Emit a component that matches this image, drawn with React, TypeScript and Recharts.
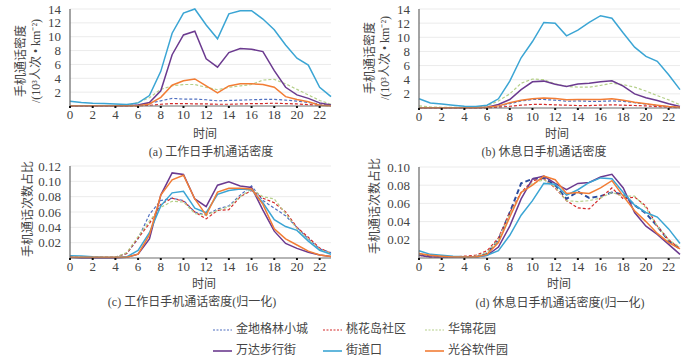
import { LineChart, Line, XAxis, YAxis, CartesianGrid } from 'recharts';

const hours = [0, 1, 2, 3, 4, 5, 6, 7, 8, 9, 10, 11, 12, 13, 14, 15, 16, 17, 18, 19, 20, 21, 22, 23];
const hourTicks = [0, 2, 4, 6, 8, 10, 12, 14, 16, 18, 20, 22];
const densityTicks = [2, 4, 6, 8, 10, 12, 14];
const shareTicksWork = [0.02, 0.04, 0.06, 0.08, 0.1, 0.12];
const shareTicksRest = [0.02, 0.04, 0.06, 0.08, 0.1];

const seriesNames = ['金地格林小城', '桃花岛社区', '华锦花园', '万达步行街', '街道口', '光谷软件园'];
const seriesKeys = ['jindi', 'taohua', 'huajin', 'wanda', 'jiedao', 'guanggu'];
const seriesColors = ['#4f6fc0', '#d42a2a', '#b5d08a', '#6b3a8f', '#3ba5d4', '#f27d35'];
const seriesDashed = [true, true, true, false, false, false];

// (a) 工作日手机通话密度
const aJindi = [0.05, 0.05, 0.05, 0.05, 0.05, 0.05, 0.1, 0.4, 0.75, 1.1, 1.0, 1.0, 0.9, 0.75, 0.8, 0.85, 0.9, 0.95, 0.95, 0.85, 0.7, 0.5, 0.3, 0.1];
const aTaohua = [0.02, 0.02, 0.02, 0.02, 0.02, 0.02, 0.02, 0.1, 0.25, 0.35, 0.35, 0.3, 0.3, 0.25, 0.25, 0.3, 0.35, 0.35, 0.4, 0.35, 0.3, 0.2, 0.1, 0.05];
const aHuajin = [0.05, 0.05, 0.05, 0.05, 0.05, 0.05, 0.5, 1.2, 2.4, 2.9, 3.1, 3.1, 2.7, 2.35, 2.7, 2.9, 3.1, 3.75, 3.85, 3.2, 2.4, 1.6, 0.8, 0.25];
const aWanda = [0.05, 0.05, 0.05, 0.05, 0.05, 0.05, 0.15, 0.5, 2.2, 7.4, 10.25, 10.8, 6.8, 5.6, 7.7, 8.3, 8.2, 7.85, 5.1, 2.7, 1.6, 1.1, 0.45, 0.15];
const aJiedao = [0.7, 0.5, 0.4, 0.35, 0.3, 0.2, 0.45, 1.5, 5.0, 10.5, 13.4, 14.0, 11.7, 9.7, 13.3, 13.75, 13.75, 12.55, 11.0, 8.8, 6.9, 5.9, 2.7, 1.35];
const aGuanggu = [0.03, 0.03, 0.03, 0.03, 0.03, 0.03, 0.05, 0.3, 1.25, 3.0, 3.65, 3.9, 2.9, 1.9, 2.9, 3.2, 3.2, 3.1, 2.7, 1.35, 0.95, 0.6, 0.1, 0.05];

// (b) 休息日手机通话密度
const bJindi = [0.05, 0.05, 0.05, 0.05, 0.05, 0.05, 0.05, 0.2, 0.6, 1.0, 1.2, 1.2, 1.1, 0.95, 1.0, 0.95, 0.95, 1.0, 0.95, 0.75, 0.55, 0.35, 0.2, 0.1];
const bTaohua = [0.02, 0.02, 0.02, 0.02, 0.02, 0.02, 0.02, 0.1, 0.25, 0.4, 0.5, 0.5, 0.45, 0.4, 0.35, 0.35, 0.4, 0.45, 0.4, 0.35, 0.3, 0.2, 0.1, 0.05];
const bHuajin = [0.3, 0.15, 0.1, 0.1, 0.1, 0.1, 0.3, 1.0, 2.0, 3.5, 4.1, 4.0, 3.4, 3.05, 2.95, 2.95, 3.2, 3.5, 3.3, 2.95, 2.4, 1.75, 1.15, 0.45];
const bWanda = [0.05, 0.05, 0.05, 0.05, 0.05, 0.05, 0.1, 0.5, 1.2, 2.6, 3.7, 3.8, 3.35, 3.05, 3.4, 3.5, 3.7, 3.85, 3.1, 2.0, 1.45, 1.05, 0.6, 0.2];
const bJiedao = [1.3, 0.7, 0.55, 0.4, 0.25, 0.2, 0.4, 1.3, 3.8, 7.1, 9.4, 12.1, 12.0, 10.2, 11.0, 12.1, 13.05, 12.7, 10.6, 8.6, 7.3, 6.6, 4.7, 2.6];
const bGuanggu = [0.05, 0.05, 0.05, 0.05, 0.05, 0.05, 0.1, 0.3, 0.75, 1.1, 1.3, 1.4, 1.35, 1.15, 1.2, 1.2, 1.2, 1.3, 1.1, 0.8, 0.6, 0.4, 0.2, 0.1];

// (c) 工作日手机通话密度(归一化)
const cJindi = [0.001, 0.001, 0.001, 0.001, 0.001, 0.006, 0.025, 0.057, 0.075, 0.078, 0.075, 0.06, 0.056, 0.064, 0.068, 0.082, 0.094, 0.075, 0.065, 0.055, 0.04, 0.025, 0.012, 0.007];
const cTaohua = [0.001, 0.001, 0.001, 0.001, 0.001, 0.006, 0.026, 0.045, 0.07, 0.078, 0.074, 0.06, 0.051, 0.062, 0.063, 0.08, 0.088, 0.078, 0.072, 0.06, 0.04, 0.027, 0.013, 0.006];
const cHuajin = [0.001, 0.001, 0.001, 0.001, 0.001, 0.007, 0.028, 0.048, 0.066, 0.074, 0.073, 0.058, 0.056, 0.062, 0.067, 0.08, 0.09, 0.08, 0.077, 0.058, 0.038, 0.024, 0.011, 0.006];
const cWanda = [0.001, 0, 0, 0, 0, 0.001, 0.005, 0.025, 0.082, 0.111, 0.109, 0.077, 0.067, 0.095, 0.0995, 0.094, 0.092, 0.0625, 0.035, 0.019, 0.0125, 0.0075, 0.004, 0.002];
const cJiedao = [0.003, 0.0025, 0.0015, 0.001, 0.001, 0.0015, 0.01, 0.033, 0.068, 0.085, 0.087, 0.065, 0.059, 0.083, 0.088, 0.09, 0.089, 0.072, 0.05, 0.041, 0.036, 0.022, 0.01, 0.005];
const cGuanggu = [0.001, 0.001, 0.001, 0.001, 0.001, 0.001, 0.005, 0.03, 0.082, 0.102, 0.108, 0.077, 0.056, 0.086, 0.091, 0.091, 0.09, 0.07, 0.038, 0.025, 0.017, 0.009, 0.004, 0.002];

// (d) 休息日手机通话密度(归一化)
const dJindi = [0.004, 0.002, 0.001, 0.001, 0.001, 0.001, 0.005, 0.02, 0.05, 0.082, 0.087, 0.088, 0.08, 0.065, 0.073, 0.066, 0.068, 0.072, 0.07, 0.058, 0.049, 0.035, 0.019, 0.01];
const dTaohua = [0.003, 0.001, 0.001, 0.001, 0.002, 0.003, 0.008, 0.022, 0.05, 0.072, 0.085, 0.087, 0.077, 0.063, 0.055, 0.054, 0.066, 0.077, 0.065, 0.067, 0.057, 0.035, 0.02, 0.01];
const dHuajin = [0.004, 0.002, 0.001, 0.001, 0.001, 0.002, 0.006, 0.02, 0.048, 0.072, 0.082, 0.086, 0.078, 0.063, 0.062, 0.063, 0.066, 0.072, 0.068, 0.068, 0.055, 0.035, 0.02, 0.012];
const dWanda = [0.003, 0.001, 0.001, 0.001, 0.001, 0.001, 0.003, 0.012, 0.035, 0.065, 0.087, 0.09, 0.082, 0.075, 0.082, 0.083, 0.089, 0.092, 0.077, 0.05, 0.035, 0.026, 0.015, 0.004];
const dJiedao = [0.008, 0.004, 0.003, 0.002, 0.0015, 0.001, 0.003, 0.008, 0.025, 0.047, 0.063, 0.082, 0.081, 0.069, 0.075, 0.083, 0.088, 0.087, 0.072, 0.058, 0.05, 0.045, 0.032, 0.016];
const dGuanggu = [0.005, 0.003, 0.002, 0.001, 0.001, 0.001, 0.004, 0.017, 0.045, 0.072, 0.08, 0.09, 0.086, 0.071, 0.072, 0.071, 0.077, 0.085, 0.068, 0.052, 0.04, 0.027, 0.017, 0.01];

const FONT = "'Liberation Serif', 'Noto Sans CJK SC', serif";
const TEXT = '#444';

function buildRows(cols: number[][]) {
  return hours.map((h, i) => {
    const row: any = { h };
    seriesKeys.forEach((k, j) => {
      row[k] = cols[j][i];
    });
    return row;
  });
}

const dataA = buildRows([aJindi, aTaohua, aHuajin, aWanda, aJiedao, aGuanggu]);
const dataB = buildRows([bJindi, bTaohua, bHuajin, bWanda, bJiedao, bGuanggu]);
const dataC = buildRows([cJindi, cTaohua, cHuajin, cWanda, cJiedao, cGuanggu]);
const dataD = buildRows([dJindi, dTaohua, dHuajin, dWanda, dJiedao, dGuanggu]);

type PanelProps = {
  data: any[];
  left: number;
  top: number;
  height: number;
  marginTop: number;
  yWidth: number;
  marginRight: number;
  yMax: number;
  yTicks: number[];
  decimals: number;
  boldJindi?: boolean;
};

const Panel = ({ data, left, top, height, marginTop, yWidth, marginRight, yMax, yTicks, decimals, boldJindi }: PanelProps) => (
  <div style={{ position: 'absolute', left, top }}>
    <LineChart width={350} height={height} data={data} margin={{ top: marginTop, right: marginRight, bottom: 0, left: 0 }}>
      <CartesianGrid vertical={false} stroke='#ebebeb' />
      <XAxis
        dataKey='h'
        type='number'
        domain={[0, 23]}
        ticks={hourTicks}
        interval={0}
        height={24}
        tickSize={2}
        tickMargin={2}
        axisLine={{ stroke: '#777', strokeWidth: 1.2 }}
        tickLine={{ stroke: '#111', strokeWidth: 2 }}
        tick={{ fill: TEXT, fontSize: 13, fontFamily: FONT }}
      />
      <YAxis
        type='number'
        domain={[0, yMax]}
        ticks={yTicks}
        interval={0}
        width={yWidth}
        tickLine={false}
        tickMargin={3}
        axisLine={{ stroke: '#666', strokeWidth: 1.2 }}
        tick={{ fill: TEXT, fontSize: 13, fontFamily: FONT }}
        tickFormatter={(v: number) => v.toFixed(decimals)}
      />
      {seriesKeys.map((k, j) => {
        const heavy = boldJindi && k === 'jindi';
        return (
          <Line
            key={k}
            type='linear'
            dataKey={k}
            stroke={heavy ? '#2b4c9e' : seriesColors[j]}
            strokeWidth={heavy ? 2 : seriesDashed[j] ? 1.2 : 1.5}
            strokeDasharray={seriesDashed[j] ? (heavy ? '5 3' : '3 2') : undefined}
            dot={false}
            isAnimationActive={false}
          />
        );
      })}
    </LineChart>
  </div>
);

const VText = ({ x, y, children }: { x: number; y: number; children: any }) => (
  <text
    x={x}
    y={y}
    transform={`rotate(-90 ${x} ${y})`}
    textAnchor='middle'
    dominantBaseline='middle'
    fontSize={12}
  >
    {children}
  </text>
);

const legendCols = [213, 323, 425];
const legendRows = [330, 351];

const Overlay = () => (
  <svg width={700} height={363} style={{ position: 'absolute', left: 0, top: 0, pointerEvents: 'none' }} fontFamily={FONT} fill={TEXT}>
    {/* y axis titles */}
    <VText x={22} y={61}>手机通话密度</VText>
    <VText x={37} y={61}>/(10³人次 • km⁻²)</VText>
    <VText x={371} y={58}>手机通话密度</VText>
    <VText x={386} y={58}>/(10³人次 • km⁻²)</VText>
    <VText x={29} y={209}>手机通话次数占比</VText>
    <VText x={376} y={206}>手机通话次数占比</VText>

    {/* x axis titles */}
    <text x={205} y={135} textAnchor='middle' dominantBaseline='middle' fontSize={12}>时间</text>
    <text x={557} y={135} textAnchor='middle' dominantBaseline='middle' fontSize={12}>时间</text>
    <text x={204} y={285} textAnchor='middle' dominantBaseline='middle' fontSize={12}>时间</text>
    <text x={559} y={285} textAnchor='middle' dominantBaseline='middle' fontSize={12}>时间</text>

    {/* captions */}
    <text x={211} y={153} textAnchor='middle' dominantBaseline='middle' fontSize={12}>(a) 工作日手机通话密度</text>
    <text x={544} y={153} textAnchor='middle' dominantBaseline='middle' fontSize={12}>(b) 休息日手机通话密度</text>
    <text x={192} y={303} textAnchor='middle' dominantBaseline='middle' fontSize={12}>(c) 工作日手机通话密度(归一化)</text>
    <text x={560} y={304} textAnchor='middle' dominantBaseline='middle' fontSize={12}>(d) 休息日手机通话密度(归一化)</text>

    {/* legend */}
    {seriesNames.map((name, j) => {
      const x = legendCols[j % 3];
      const y = legendRows[Math.floor(j / 3)];
      return (
        <g key={name}>
          <line
            x1={x}
            x2={x + 19}
            y1={y}
            y2={y}
            stroke={seriesColors[j]}
            strokeWidth={seriesDashed[j] ? 1.2 : 1.6}
            strokeDasharray={seriesDashed[j] ? '2 1.5' : undefined}
          />
          <text x={x + 23} y={y} dominantBaseline='middle' fontSize={12}>{name}</text>
        </g>
      );
    })}
  </svg>
);

export default function App() {
  return (
    <div style={{ position: 'absolute', left: 0, top: 0, width: 700, height: 363, background: '#fff' }}>
      <Panel data={dataA} left={0} top={0} height={130} marginTop={9} yWidth={70} marginRight={19} yMax={14} yTicks={densityTicks} decimals={0} />
      <Panel data={dataB} left={350} top={0} height={132} marginTop={9} yWidth={69} marginRight={20} yMax={14} yTicks={densityTicks} decimals={0} />
      <Panel data={dataC} left={0} top={150} height={132} marginTop={16} yWidth={70} marginRight={19} yMax={0.12} yTicks={shareTicksWork} decimals={2} />
      <Panel data={dataD} left={350} top={150} height={132} marginTop={17} yWidth={69} marginRight={20} yMax={0.1} yTicks={shareTicksRest} decimals={2} boldJindi />
      <Overlay />
    </div>
  );
}
